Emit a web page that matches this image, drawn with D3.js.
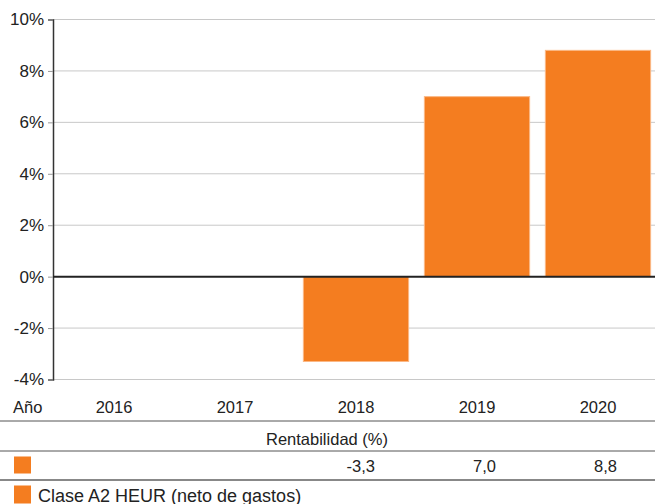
<!DOCTYPE html>
<html>
<head>
<meta charset="utf-8">
<script src="https://cdn.jsdelivr.net/npm/d3@7"></script>
<style>
    body { margin: 0; background: #fff; }
    svg { display: block; font-family: "Liberation Sans", Arial, sans-serif; }
</style>
</head>
<body>
<svg id="canvas" width="655" height="504"></svg>
<script>
const years = ["2016", "2017", "2018", "2019", "2020"];
const returns = [null, null, -3.3, 7.0, 8.8];
const yTicks = [-4, -2, 0, 2, 4, 6, 8, 10];
const rowLabel = "Año";
const tableTitle = "Rentabilidad (%)";
const seriesName = "Clase A2 HEUR (neto de gastos)";

const orange = "#f47d20";
const canvas = d3.select("#canvas");

const x = d3.scaleBand()
    .domain(years)
    .range([53.5, 658.5])
    .paddingInner(0.13)
    .paddingOuter(0.065);

const y = d3.scaleLinear().domain([-4, 10]).range([379.5, 19.5]);

// gridlines
canvas.append("g")
    .selectAll("line")
    .data(yTicks.filter((t) => t !== 0))
    .enter()
    .append("line")
    .attr("x1", 53)
    .attr("x2", 655)
    .attr("y1", (t) => y(t))
    .attr("y2", (t) => y(t))
    .attr("stroke", "#c8c8c8")
    .attr("stroke-width", 1);

// y axis
const yAxis = canvas.append("g")
    .attr("transform", "translate(53,0)")
    .call(d3.axisLeft(y).tickValues(yTicks).tickSize(5).tickPadding(4).tickFormat((t) => t + "%"));
yAxis.select(".domain").attr("stroke", "#333").attr("stroke-width", 1.5);
yAxis.selectAll(".tick line").attr("stroke", "#999");
yAxis.selectAll(".tick text")
    .attr("fill", "#222")
    .style("font-size", "17px")
    .style("font-family", "'Liberation Sans', Arial, sans-serif");

// bars
const barData = years.map((yr, i) => ({ year: yr, value: returns[i] })).filter((d) => d.value !== null);
canvas.append("g")
    .selectAll("rect")
    .data(barData)
    .enter()
    .append("rect")
    .attr("x", (d) => x(d.year))
    .attr("width", x.bandwidth())
    .attr("y", (d) => y(Math.max(0, d.value)))
    .attr("height", (d) => Math.abs(y(d.value) - y(0)))
    .attr("fill", orange)
    .attr("stroke", "#fbb885")
    .attr("stroke-width", 1);

// zero line
canvas.append("line")
    .attr("x1", 53)
    .attr("x2", 655)
    .attr("y1", y(0))
    .attr("y2", y(0))
    .attr("stroke", "#222")
    .attr("stroke-width", 2);

// table below
const table = canvas.append("g").style("font-size", "16.5px").attr("fill", "#222");

table.append("text").attr("x", 13).attr("y", 413).text(rowLabel);
table.selectAll(".year")
    .data(years)
    .enter()
    .append("text")
    .attr("class", "year")
    .attr("x", (d) => x(d) + x.bandwidth() / 2)
    .attr("y", 413)
    .attr("text-anchor", "middle")
    .text((d) => d);

table.append("line").attr("x1", 0).attr("x2", 655).attr("y1", 421).attr("y2", 421)
    .attr("stroke", "#555").attr("stroke-width", 1);
table.append("text").attr("x", 327).attr("y", 445).attr("text-anchor", "middle").text(tableTitle);
table.append("line").attr("x1", 0).attr("x2", 655).attr("y1", 451).attr("y2", 451)
    .attr("stroke", "#555").attr("stroke-width", 1);

table.append("rect").attr("x", 14).attr("y", 456.5).attr("width", 17).attr("height", 17).attr("fill", orange);
table.selectAll(".val")
    .data(barData)
    .enter()
    .append("text")
    .attr("class", "val")
    .attr("x", (d) => x(d.year) + x.bandwidth() / 2 + 19)
    .attr("y", 472)
    .attr("text-anchor", "end")
    .text((d) => d.value.toFixed(1).replace(".", ","));

table.append("line").attr("x1", 0).attr("x2", 655).attr("y1", 480).attr("y2", 480)
    .attr("stroke", "#888").attr("stroke-width", 2);

table.append("rect").attr("x", 14).attr("y", 485.5).attr("width", 17).attr("height", 18).attr("fill", orange);
table.append("text").attr("x", 38).attr("y", 501.5).style("font-size", "18px").text(seriesName);
</script>
</body>
</html>
